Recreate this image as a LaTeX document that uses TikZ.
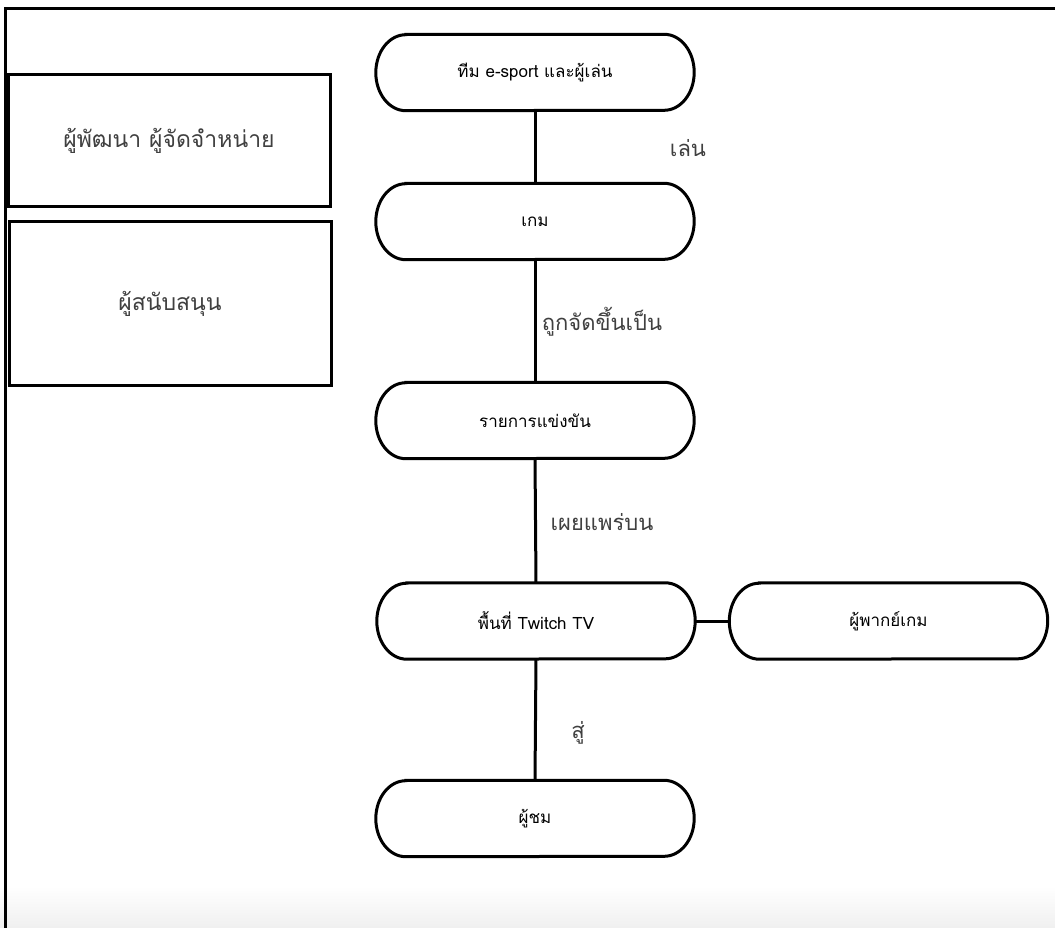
\documentclass[tikz,border=0pt]{standalone}
\usepackage{fontspec}
\setmainfont[Script=Thai]{Loma}
\usetikzlibrary{calc}
\tikzset{
  frameline/.style={line width=3pt, line cap=rect},
  boxnode/.style={draw, line width=3pt, minimum width=322pt, minimum height=132pt, inner sep=0pt, font=\fontsize{23}{26}\selectfont, text=black!75},
  pillnode/.style={minimum width=318pt, minimum height=76pt, inner sep=0pt, font=\fontsize{17}{19}\selectfont},
  pillline/.style={line width=3pt},
  conn/.style={line width=3pt},
  lbl/.style={inner sep=0pt, font=\fontsize{22}{24}\selectfont, text=black!75}
}
\newcommand\drawpill[1]{%
  \draw[pillline] ($(#1.north west)+(30pt,0)$) -- ($(#1.north east)+(-30pt,0)$)
    arc[start angle=90,end angle=-90,x radius=30pt,y radius=38pt]
    -- ($(#1.south west)+(30pt,0)$)
    arc[start angle=270,end angle=90,x radius=30pt,y radius=38pt] -- cycle;}
\begin{document}
\begin{tikzpicture}[x=1pt,y=1pt]
\useasboundingbox (0,0) rectangle (1055,-928);
\shade[top color=white, bottom color=black!6] (0,-886) rectangle (1055,-928);
\coordinate (ftl) at (5,-9);
\coordinate (ftr) at (1058,-9);
\coordinate (fbl) at (5,-930);
\draw[frameline] (ftr) -- (ftl) -- (fbl);

\node[boxnode] (dev) at (169,-141) {ผู้พัฒนา ผู้จัดจำหน่าย};
\node[boxnode, minimum height=163pt] (spon) at (170,-303.5) {ผู้สนับสนุน};

\node[pillnode] (team) at (535,-72.5) {ทีม e-sport และผู้เล่น};
\node[pillnode] (game) at (535,-221.5) {เกม};
\node[pillnode] (tour) at (535,-420.5) {รายการแข่งขัน};
\node[pillnode] (twitch) at (536,-621) {พื้นที่ Twitch TV};
\node[pillnode] (caster) at (888.5,-621) {ผู้พากย์เกม};
\node[pillnode] (view) at (535,-818.5) {ผู้ชม};
\foreach \n in {team,game,tour,twitch,caster,view}{\drawpill{\n}}

\draw[conn] (team.south) -- (game.north);
\draw[conn] (game.south) -- (tour.north);
\draw[conn] (tour.south) -- (twitch.north);
\draw[conn] (twitch.east) -- (caster.west);
\draw[conn] (twitch.south) -- (view.north);

\node[lbl] (l1) at (688,-148) {เล่น};
\node[lbl] (l2) at (602,-322) {ถูกจัดขึ้นเป็น};
\node[lbl] (l3) at (602,-522) {เผยแพร่บน};
\node[lbl] (l4) at (578,-733) {สู่};
\end{tikzpicture}
\end{document}
